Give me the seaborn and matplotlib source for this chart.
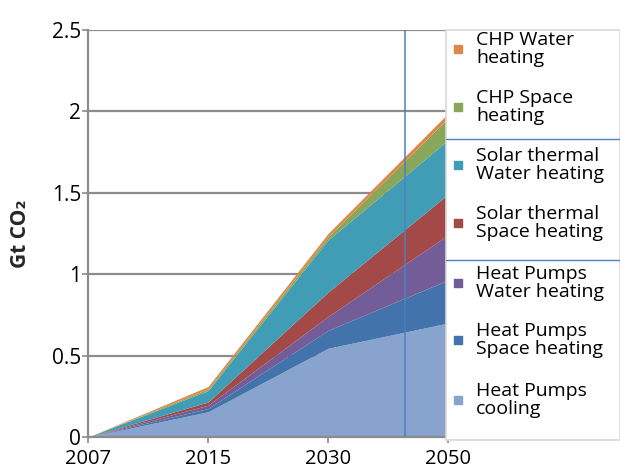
import numpy as np
import matplotlib
matplotlib.use("Agg")
import matplotlib.pyplot as plt
import seaborn as sns
from matplotlib.patches import Rectangle

# ------------------------------------------------------------------------------
# DATA (Gt CO2, stacked from the bottom up)
# ------------------------------------------------------------------------------
years = ["2007", "2015", "2030", "2050"]

hp_cooling = [0.0, 0.155, 0.545, 0.700]
hp_space = [0.0, 0.020, 0.110, 0.264]
hp_water = [0.0, 0.020, 0.085, 0.277]
solar_space = [0.0, 0.020, 0.150, 0.250]
solar_water = [0.0, 0.070, 0.320, 0.333]
chp_space = [0.0, 0.010, 0.020, 0.134]
chp_water = [0.0, 0.015, 0.020, 0.030]

series_labels = [
    "Heat Pumps\ncooling",
    "Heat Pumps\nSpace heating",
    "Heat Pumps\nWater heating",
    "Solar thermal\nSpace heating",
    "Solar thermal\nWater heating",
    "CHP Space\nheating",
    "CHP Water\nheating",
]
colors = ["#88a3cd", "#4273aa", "#725d99", "#a34a48", "#419db6", "#88a75a", "#dd874a"]

y_ticks = [0, 0.5, 1, 1.5, 2, 2.5]
y_tick_labels = ["0", "0.5", "1", "1.5", "2", "2.5"]

# ------------------------------------------------------------------------------
# PLOT
# ------------------------------------------------------------------------------
sns.set_theme(style="white")
plt.rcParams["font.family"] = ["Open Sans", "DejaVu Sans"]

fig = plt.figure(figsize=(6.2, 4.67), dpi=100)
W, H = 620, 467
ax = fig.add_axes([88 / W, 1 - 437 / H, (448 - 88) / W, (437 - 30) / H])

x = np.arange(len(years))
ax.stackplot(x, hp_cooling, hp_space, hp_water, solar_space, solar_water,
             chp_space, chp_water, colors=colors, linewidth=0)

ax.set_xlim(0, len(years) - 1)
ax.set_ylim(0, 2.5)
ax.set_xticks(x)
ax.set_xticklabels(years, fontsize=14.5)
ax.set_yticks(y_ticks)
ax.set_yticklabels(y_tick_labels, fontsize=15)

grid_col = "#8c8c8c"
for yv in y_ticks[1:]:
    ax.axhline(yv, color=grid_col, lw=1.6, zorder=0)
for side in ["top", "right"]:
    ax.spines[side].set_visible(False)
for side in ["left", "bottom"]:
    ax.spines[side].set_color(grid_col)
    ax.spines[side].set_linewidth(1.6)
ax.tick_params(axis="both", direction="out", length=4, width=1.2, color=grid_col,
               left=True, bottom=True, labelcolor="black")
ax.tick_params(axis="y", pad=1)
ax.tick_params(axis="x", pad=4.5)

ax.set_ylabel("Gt CO₂", fontsize=15, fontweight="bold", labelpad=15)

# stray vertical guide line
ax.axvline(0.88 * (len(years) - 1), color="#4f7fbf", lw=1.1, zorder=5)

# ------------------------------------------------------------------------------
# LEGEND box drawn in pixel space (top item = top layer)
# ------------------------------------------------------------------------------
lx0, lx1, ly0, ly1 = 446, 620, 30, 440
lax = fig.add_axes([lx0 / W, 1 - ly1 / H, (lx1 - lx0) / W, (ly1 - ly0) / H])
lax.set_xlim(lx0, lx1)
lax.set_ylim(ly1, ly0)
lax.axis("off")
lax.add_patch(Rectangle((lx0, ly0), lx1 - lx0, ly1 - ly0, facecolor="white",
                        edgecolor="#d9d9d9", lw=1.2, clip_on=False))

entry_y = [49, 107, 165, 223, 283, 340, 400]
for yy, lab, col in zip(entry_y, series_labels[::-1], colors[::-1]):
    lax.scatter([458], [yy], marker="s", s=38, color=col, zorder=3)
    lax.text(476, yy, lab, fontsize=14, va="center", ha="left",
             linespacing=1.0, color="black")

for ypx in [139, 260]:
    lax.plot([lx0, lx1], [ypx, ypx], color="#4f7fbf", lw=1.0, clip_on=False)

fig.savefig("out.png", dpi=100)
